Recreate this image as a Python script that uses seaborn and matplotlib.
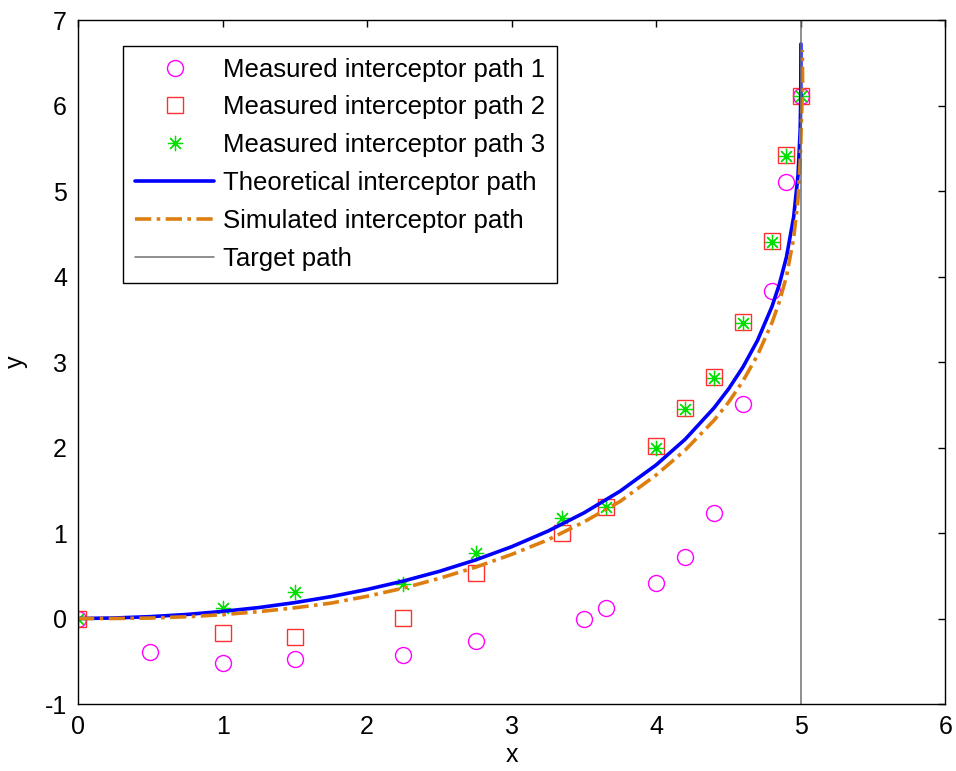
import matplotlib
matplotlib.use("Agg")
import matplotlib.pyplot as plt
import pandas as pd
import seaborn as sns

# Measured interceptor positions
path1_x = [0, 0.5, 1, 1.5, 2.25, 2.75, 3.5, 3.65, 4.0, 4.2, 4.4, 4.6, 4.8, 4.9, 5.0]
path1_y = [0, -0.39, -0.52, -0.47, -0.43, -0.26, 0.0, 0.12, 0.41, 0.72, 1.23, 2.51, 3.83, 5.11, 6.11]

path23_x = [0, 1, 1.5, 2.25, 2.75, 3.35, 3.65, 4.0, 4.2, 4.4, 4.6, 4.8, 4.9, 5.0]
path2_y = [0, -0.17, -0.22, 0.01, 0.53, 1.0, 1.31, 2.02, 2.46, 2.82, 3.47, 4.41, 5.42, 6.11]
path3_y = [0, 0.12, 0.31, 0.40, 0.77, 1.17, 1.30, 2.0, 2.45, 2.81, 3.46, 4.40, 5.41, 6.11]

# Theoretical pursuit curve
theory_x = [0, 0.25, 0.5, 0.75, 1, 1.25, 1.5, 1.75, 2, 2.25, 2.5, 2.75, 3, 3.25, 3.5,
            3.75, 4, 4.2, 4.4, 4.5, 4.6, 4.7, 4.8, 4.85, 4.9, 4.95, 4.98, 4.995, 4.999, 5.0]
theory_y = [0, 0.006, 0.022, 0.047, 0.083, 0.128, 0.186, 0.256, 0.34, 0.438, 0.552, 0.685,
            0.84, 1.022, 1.236, 1.49, 1.798, 2.097, 2.465, 2.686, 2.943, 3.253, 3.649, 3.904,
            4.228, 4.698, 5.186, 5.708, 6.091, 6.72]

# Simulated interceptor path
sim_x = [0, 0.25, 0.5, 0.75, 1, 1.25, 1.5, 1.75, 2, 2.25, 2.5, 2.75, 3, 3.25, 3.5, 3.75,
         4, 4.2, 4.4, 4.5, 4.6, 4.7, 4.8, 4.85, 4.9, 4.95, 4.98, 4.995, 5.005, 5.012, 5.01]
sim_y = [0, 0.0, 0.005, 0.02, 0.045, 0.08, 0.125, 0.18, 0.26, 0.355, 0.47, 0.60, 0.75, 0.92,
         1.13, 1.37, 1.68, 1.97, 2.32, 2.53, 2.78, 3.08, 3.46, 3.70, 4.0, 4.45, 4.9, 5.35,
         5.9, 6.2, 6.65]

# Target moving along x = 5
target_x = [5, 5]
target_y = [-1, 7]

x_ticks = [0, 1, 2, 3, 4, 5, 6]
y_ticks = [-1, 0, 1, 2, 3, 4, 5, 6, 7]

sns.set_style("white")
plt.rcParams["font.family"] = ["Liberation Sans", "DejaVu Sans"]
plt.rcParams["text.color"] = "black"
plt.rcParams["axes.labelcolor"] = "black"
plt.rcParams["xtick.color"] = "black"
plt.rcParams["ytick.color"] = "black"

fig, ax = plt.subplots(figsize=(9.56, 7.71), dpi=100)
fig.subplots_adjust(left=0.0816, right=0.989, bottom=0.0869, top=0.974)

common = dict(ax=ax, estimator=None, sort=False)

sns.lineplot(x=path1_x, y=path1_y, linestyle="", marker="o", markersize=11.5,
             markerfacecolor="none", markeredgecolor="#FF00FF", markeredgewidth=1.0,
             color="#FF00FF", label="Measured interceptor path 1", **common)
sns.lineplot(x=path23_x, y=path2_y, linestyle="", marker="s", markersize=11.5,
             markerfacecolor="none", markeredgecolor="#FF3030", markeredgewidth=1.0,
             color="#FF3030", label="Measured interceptor path 2", **common)
sns.lineplot(x=path23_x, y=path3_y, linestyle="", marker=(8, 2, 0), markersize=11,
             markerfacecolor="none", markeredgecolor="#00E000", markeredgewidth=0.9,
             color="#00E000", label="Measured interceptor path 3", **common)
sns.lineplot(x=theory_x, y=theory_y, color="#0000FF", linewidth=2.6,
             label="Theoretical interceptor path", **common)
sns.lineplot(x=sim_x, y=sim_y, color="#DD7F10", linewidth=2.6,
             linestyle=(0, (4.5, 1.5, 1.0, 1.5)),
             label="Simulated interceptor path", **common)
sns.lineplot(x=target_x, y=target_y, color="#707070", linewidth=1.1,
             label="Target path", **common)

ax.set_xlim(0, 6)
ax.set_ylim(-1, 7)
ax.set_xticks(x_ticks)
ax.set_yticks(y_ticks)
ax.set_xticklabels([str(t) for t in x_ticks])
ax.set_yticklabels([str(t) for t in y_ticks])
ax.tick_params(axis="both", direction="in", length=5, width=1, top=True, right=True,
               labelsize=18, colors="black")
ax.tick_params(axis="x", pad=8)
ax.tick_params(axis="y", pad=8)
for sp in ax.spines.values():
    sp.set_visible(True)
    sp.set_color("black")
    sp.set_linewidth(1.0)

ax.set_xlabel("x", fontsize=18, labelpad=3)
ax.set_ylabel("y", fontsize=18, labelpad=12)

handles, labels = ax.get_legend_handles_labels()
leg = ax.legend(handles, labels, loc="upper left", bbox_to_anchor=(0.052, 0.962),
                borderaxespad=0, fontsize=18.5, frameon=True, fancybox=False,
                edgecolor="black", framealpha=1, handlelength=3.1, handletextpad=0.35,
                labelspacing=0.54, borderpad=0.45, numpoints=1)
leg.get_frame().set_linewidth(1.0)

fig.savefig("out.png", dpi=100)
